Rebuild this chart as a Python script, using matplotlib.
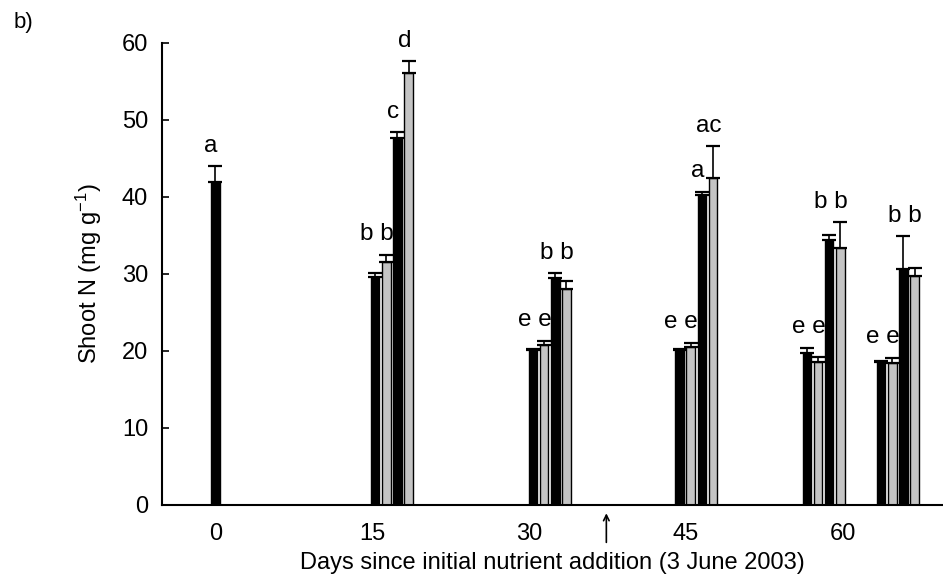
import matplotlib.pyplot as plt
import numpy as np

plt.rcParams['font.family'] = ['Liberation Sans', 'DejaVu Sans']
plt.rcParams['mathtext.fontset'] = 'custom'
plt.rcParams['mathtext.rm'] = 'Liberation Sans'
plt.rcParams['mathtext.it'] = 'Liberation Sans:italic'

# first bar of each sampling group (days)
group_start = [0, 15.3, 30.4, 44.4, 56.6, 63.7]
bar_step = 1.06

# four treatments, values and upper error (mg g-1); nan = not sampled
s1 = [42.0, 29.6, 20.1, 20.1, 19.7, 18.6]
e1 = [2.0, 0.5, 0.2, 0.2, 0.7, 0.1]
s2 = [np.nan, 31.5, 20.8, 20.5, 18.6, 18.4]
e2 = [np.nan, 1.0, 0.5, 0.6, 0.6, 0.7]
s3 = [np.nan, 47.7, 29.5, 40.3, 34.4, 30.6]
e3 = [np.nan, 0.7, 0.6, 0.4, 0.7, 4.3]
s4 = [np.nan, 56.1, 28.0, 42.5, 33.4, 29.7]
e4 = [np.nan, 1.5, 1.1, 4.1, 3.3, 1.1]

series = [s1, s2, s3, s4]
errors = [e1, e2, e3, e4]
colors = ['black', '#c4c4c4', 'black', '#c4c4c4']

# significance letters: (text, bars it sits over)
letters = [
    [("a", [0])],
    [("b b", [0, 1]), ("c", [2]), ("d", [3])],
    [("e e", [0, 1]), ("b b", [2, 3])],
    [("e e", [0, 1]), ("a", [2]), ("ac", [3])],
    [("e e", [0, 1]), ("b b", [2, 3])],
    [("e e", [0, 1]), ("b b", [2, 3])],
]

arrow_day = 37.4

fig = plt.figure(figsize=(9.43, 5.85), dpi=100)
ax = fig.add_axes([0.1718, 0.1368, 0.8282, 0.7897])

start = np.array(group_start)
for k in range(4):
    x = start + k * bar_step
    v = np.array(series[k])
    err = np.array(errors[k])
    ax.bar(x, v, width=0.8, color=colors[k], edgecolor='black', linewidth=1.0, zorder=2)
    ax.errorbar(x, v, yerr=[np.zeros_like(err), err], fmt='none', ecolor='black',
                elinewidth=1.2, capsize=5, capthick=1.6, zorder=3)

for g, labs in enumerate(letters):
    for txt, idx in labs:
        xs = [group_start[g] + i * bar_step for i in idx]
        tops = [series[i][g] + errors[i][g] for i in idx]
        ax.text(np.mean(xs) - 0.4, max(tops) + 1.9, txt, ha='center', va='baseline',
                fontsize=17.5)

ax.set_xlim(-5.1, 69.6)
ax.set_ylim(0, 60)
ax.set_xticks([0, 15, 30, 45, 60])
ax.set_yticks(range(0, 61, 10))
ax.tick_params(axis='x', length=0, pad=13, labelsize=17)
ax.tick_params(axis='y', direction='in', length=5, width=1.2, pad=10, labelsize=17)
for s in ['top', 'right']:
    ax.spines[s].set_visible(False)
for s in ['left', 'bottom']:
    ax.spines[s].set_linewidth(1.5)

ax.set_ylabel(r'Shoot N (mg g$^{\mathregular{-1}}$)', fontsize=17, labelpad=13)
ax.set_xlabel('Days since initial nutrient addition (3 June 2003)', fontsize=17, labelpad=5)

ax.annotate('', xy=(arrow_day, -0.012), xytext=(arrow_day, -0.087),
            xycoords=('data', 'axes fraction'), textcoords=('data', 'axes fraction'),
            arrowprops=dict(arrowstyle='->', lw=1.2, color='black'))

fig.text(0.014, 0.962, 'b)', fontsize=16, ha='left', va='center')

fig.savefig('out.png', dpi=100)
